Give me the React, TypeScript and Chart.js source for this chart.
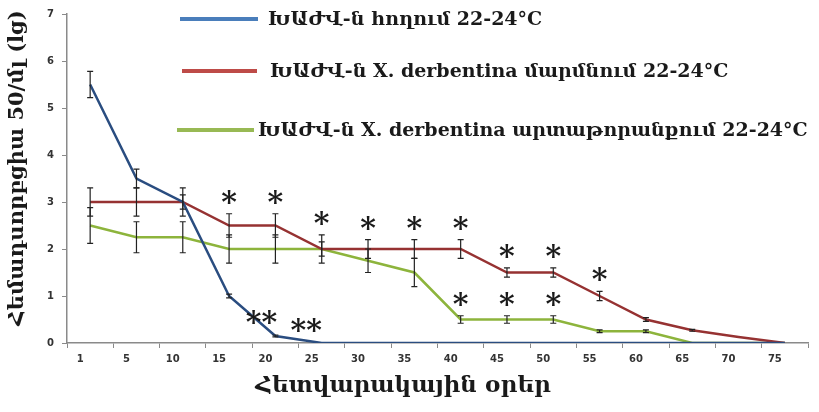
import { useEffect, useRef } from 'react';
import { Chart, registerables } from 'chart.js';

Chart.register(...registerables);

// ---- data ----
const days = ['1', '5', '10', '15', '20', '25', '30', '35', '40', '45', '50', '55', '60', '65', '70', '75'];

const soilLabel = 'ԽԱԺՎ-ն հողում 22-24°C';
const bodyLabel = 'ԽԱԺՎ-ն X. derbentina մարմնում 22-24°C';
const fecesLabel = 'ԽԱԺՎ-ն X. derbentina արտաթորանքում 22-24°C';

const soilValues = [5.5, 3.5, 3.0, 1.0, 0.15, 0, 0, 0, 0, 0, 0, 0, 0, 0, 0, 0];
const soilErrors = [0.28, 0.2, 0.15, 0.04, 0.02, 0, 0, 0, 0, 0, 0, 0, 0, 0, 0, 0];
const soilMarks = ['', '', '', '', '**', '**', '', '', '', '', '', '', '', '', '', ''];

const bodyValues = [3, 3, 3, 2.5, 2.5, 2, 2, 2, 2, 1.5, 1.5, 1.0, 0.5, 0.27, 0.13, 0];
const bodyErrors = [0.3, 0.3, 0.3, 0.25, 0.25, 0.3, 0.2, 0.2, 0.2, 0.1, 0.1, 0.1, 0.04, 0.02, 0, 0];
const bodyMarks = ['', '', '', '*', '*', '*', '*', '*', '*', '*', '*', '*', '', '', '', ''];

const fecesValues = [2.5, 2.25, 2.25, 2, 2, 2, 1.75, 1.5, 0.5, 0.5, 0.5, 0.25, 0.25, 0, 0, 0];
const fecesErrors = [0.38, 0.33, 0.33, 0.3, 0.3, 0.15, 0.25, 0.3, 0.08, 0.08, 0.08, 0.03, 0.03, 0, 0, 0];
const fecesMarks = ['', '', '', '', '', '', '', '', '*', '*', '*', '', '', '', '', ''];

const yTicks = [0, 1, 2, 3, 4, 5, 6, 7];

const xTitle = 'Հետվարակային օրեր';
const yTitle = 'Հեմադսորբցիա 50/մլ (lg)';

// ---- styling ----
const SERIF = "'DejaVu Serif', serif";
const SANS = "'DejaVu Sans', sans-serif";

const lineColors = ['#2a4d80', '#963232', '#8db43c'];
const legendColors = ['#4a7ebb', '#be4b48', '#98b954'];

const errorSets = [soilErrors, bodyErrors, fecesErrors];
const markSets = [soilMarks, bodyMarks, fecesMarks];

const errorBarPlugin = {
  id: 'errorBars',
  afterDatasetsDraw(chart: any) {
    const { ctx, scales } = chart;
    const y = scales.y;
    ctx.save();
    ctx.strokeStyle = '#222';
    ctx.lineWidth = 1.2;
    chart.data.datasets.forEach((ds: any, di: number) => {
      const meta = chart.getDatasetMeta(di);
      const errs = errorSets[di];
      meta.data.forEach((pt: any, i: number) => {
        const e = errs[i];
        if (!e) return;
        const v = ds.data[i];
        const yt = y.getPixelForValue(v + e);
        const yb = y.getPixelForValue(v - e);
        const x = pt.x;
        ctx.beginPath();
        ctx.moveTo(x, yt);
        ctx.lineTo(x, yb);
        ctx.moveTo(x - 3, yt);
        ctx.lineTo(x + 3, yt);
        ctx.moveTo(x - 3, yb);
        ctx.lineTo(x + 3, yb);
        ctx.stroke();
      });
    });
    // significance marks
    ctx.fillStyle = '#1a1a1a';
    ctx.font = `bold 30px ${SERIF}`;
    ctx.textAlign = 'center';
    ctx.textBaseline = 'alphabetic';
    const m = ctx.measureText('*');
    const half = (m.actualBoundingBoxAscent - m.actualBoundingBoxDescent) / 2;
    chart.data.datasets.forEach((ds: any, di: number) => {
      const meta = chart.getDatasetMeta(di);
      const marks = markSets[di];
      meta.data.forEach((pt: any, i: number) => {
        const t = marks[i];
        if (!t) return;
        const v = ds.data[i];
        const top = y.getPixelForValue(v + errorSets[di][i]);
        let cx = pt.x;
        let cy = top - 17;
        if (di === 0) {
          cx = pt.x - 8 - i * 1.5;
          cy = top - 18;
        }
        ctx.fillText(t, cx, cy + half);
      });
    });
    ctx.restore();
  },
};

const legendSpots = [
  { x1: 180, x2: 258, y: 19, tx: 268 },
  { x1: 182, x2: 257, y: 71, tx: 270 },
  { x1: 177, x2: 254, y: 130, tx: 258 },
];

const decorPlugin = {
  id: 'decor',
  afterDraw(chart: any) {
    const { ctx } = chart;
    ctx.save();
    // legend
    chart.data.datasets.forEach((ds: any, i: number) => {
      const s = legendSpots[i];
      ctx.strokeStyle = legendColors[i];
      ctx.lineWidth = 4;
      ctx.beginPath();
      ctx.moveTo(s.x1, s.y);
      ctx.lineTo(s.x2, s.y);
      ctx.stroke();
      ctx.fillStyle = '#1a1a1a';
      ctx.font = `bold 19px ${SERIF}`;
      ctx.textAlign = 'left';
      ctx.textBaseline = 'middle';
      ctx.fillText(ds.label, s.tx, s.y + 1);
    });
    // axis titles
    ctx.fillStyle = '#1a1a1a';
    ctx.font = `bold 23px ${SERIF}`;
    ctx.textAlign = 'center';
    ctx.textBaseline = 'middle';
    ctx.fillText(xTitle, 403, 386);
    ctx.translate(18, 168);
    ctx.rotate(-Math.PI / 2);
    ctx.font = `bold 21px ${SERIF}`;
    ctx.fillText(yTitle, 0, 0);
    ctx.restore();
  },
};

export default function App() {
  const ref = useRef<HTMLCanvasElement | null>(null);

  useEffect(() => {
    document.body.style.margin = '0';
    const canvas = ref.current;
    if (!canvas) return;
    const chart = new Chart(canvas, {
      type: 'line',
      data: {
        labels: days,
        datasets: [
          { label: soilLabel, data: soilValues, borderColor: lineColors[0], backgroundColor: lineColors[0], borderWidth: 2.5, pointRadius: 0, tension: 0 },
          { label: bodyLabel, data: bodyValues, borderColor: lineColors[1], backgroundColor: lineColors[1], borderWidth: 2.5, pointRadius: 0, tension: 0 },
          { label: fecesLabel, data: fecesValues, borderColor: lineColors[2], backgroundColor: lineColors[2], borderWidth: 2.5, pointRadius: 0, tension: 0 },
        ],
      },
      options: {
        animation: false,
        responsive: false,
        devicePixelRatio: 1,
        layout: { padding: { top: 13, right: 11, left: 0, bottom: 0 } },
        plugins: { legend: { display: false }, tooltip: { enabled: false } },
        scales: {
          x: {
            type: 'category',
            offset: true,
            grid: { display: true, drawOnChartArea: false, drawTicks: true, tickLength: 5, color: '#8a8a8a', offset: true },
            border: { display: true, color: '#8a8a8a', width: 1.5 },
            ticks: {
              autoSkip: false,
              maxRotation: 0,
              labelOffset: -10,
              padding: 5,
              color: '#333',
              font: { family: SANS, size: 10, weight: 'bold' },
            },
            afterFit: (s: any) => {
              s.height = 69;
            },
          },
          y: {
            min: 0,
            max: 7,
            afterBuildTicks: (s: any) => {
              s.ticks = yTicks.map((v) => ({ value: v }));
            },
            grid: { display: true, drawOnChartArea: false, drawTicks: true, tickLength: 5, color: '#8a8a8a' },
            border: { display: true, color: '#8a8a8a', width: 1.5 },
            ticks: {
              padding: 8,
              color: '#333',
              font: { family: SANS, size: 10, weight: 'bold' },
            },
            afterFit: (s: any) => {
              s.width = 67;
            },
          },
        },
      } as any,
      plugins: [errorBarPlugin, decorPlugin],
    });
    return () => chart.destroy();
  }, []);

  return (
    <div style={{ width: 819, height: 412, background: '#fff' }}>
      <canvas ref={ref} width={819} height={412} style={{ display: 'block' }} />
    </div>
  );
}
